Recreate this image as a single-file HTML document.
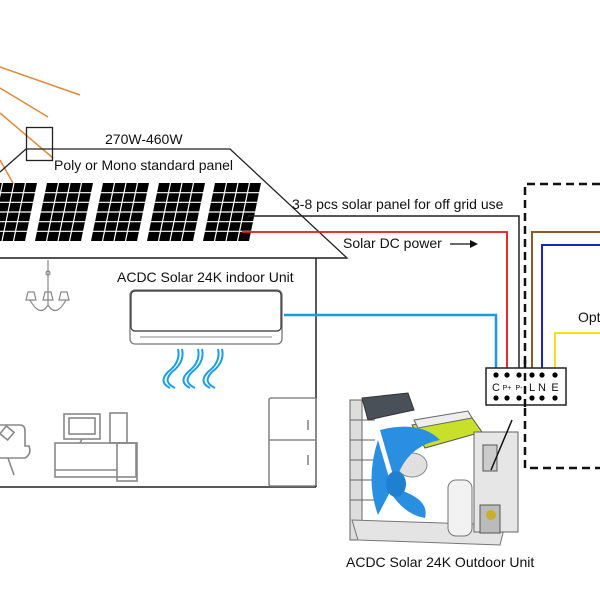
<!DOCTYPE html>
<html><head><meta charset="utf-8"><style>
html,body{margin:0;padding:0;background:#fff;width:600px;height:600px;overflow:hidden}
text{font-family:"Liberation Sans",Arial,sans-serif;fill:#111}
</style></head><body>
<svg width="600" height="600" viewBox="0 0 600 600" xmlns="http://www.w3.org/2000/svg">
<g stroke="#e08a3c" stroke-width="1.5">
<line x1="0" y1="67" x2="80" y2="95"/>
<line x1="0" y1="88" x2="48" y2="117"/>
<line x1="0" y1="113" x2="53" y2="158"/>
<line x1="0" y1="160" x2="13" y2="183"/>
</g>
<rect x="26.5" y="127.5" width="26" height="33" fill="none" stroke="#222" stroke-width="1.3"/>
<polyline points="0,172 26,149 230,149 347,258 0,258" fill="none" stroke="#222" stroke-width="1.3"/>
<line x1="0" y1="258" x2="347" y2="258" stroke="#444" stroke-width="1.8"/>
<line x1="316" y1="258" x2="316" y2="487" stroke="#222" stroke-width="1.5"/>
<line x1="0" y1="487" x2="316" y2="487" stroke="#222" stroke-width="1.5"/>
<defs>
<g id="pnl">
<polygon points="12,0 58,0 46,58 0,58" fill="#000"/>
<g stroke="#fff" stroke-width="1.2">
<line x1="23.5" y1="0" x2="11.5" y2="58"/>
<line x1="35" y1="0" x2="23" y2="58"/>
<line x1="46.5" y1="0" x2="34.5" y2="58"/>
<line x1="0" y1="9.7" x2="60" y2="9.7"/>
<line x1="0" y1="19.3" x2="60" y2="19.3"/>
<line x1="0" y1="29" x2="60" y2="29"/>
<line x1="0" y1="38.7" x2="60" y2="38.7"/>
<line x1="0" y1="48.3" x2="60" y2="48.3"/>
</g>
</g>
</defs>
<use href="#pnl" x="-21" y="183"/>
<use href="#pnl" x="35" y="183"/>
<use href="#pnl" x="91" y="183"/>
<use href="#pnl" x="147" y="183"/>
<use href="#pnl" x="203" y="183"/>
<polyline points="248,216 519,216 519,375" fill="none" stroke="#222" stroke-width="1.5"/>
<polyline points="242,232 507,232 507,375" fill="none" stroke="#e8141a" stroke-width="1.8"/>
<polyline points="284,315 496,315 496,375" fill="none" stroke="#1a9be0" stroke-width="2.5"/>
<polyline points="600,232 532,232 532,375" fill="none" stroke="#8a5a2a" stroke-width="2"/>
<polyline points="600,245 542,245 542,375" fill="none" stroke="#1a22cc" stroke-width="2"/>
<polyline points="600,333 555,333 555,375" fill="none" stroke="#f2e21a" stroke-width="2"/>
<polyline points="600,184 525,184 525,468 600,468" fill="none" stroke="#111" stroke-width="2.5" stroke-dasharray="8,5"/>
<rect x="486" y="368" width="80" height="37" fill="#fff" stroke="#222" stroke-width="1.5"/>
<g fill="#000">
<circle cx="496" cy="375" r="2.6"/><circle cx="507" cy="375" r="2.6"/><circle cx="519" cy="375" r="2.6"/><circle cx="532" cy="375" r="2.6"/><circle cx="542" cy="375" r="2.6"/><circle cx="555" cy="375" r="2.6"/>
<circle cx="496" cy="398" r="2.6"/><circle cx="507" cy="398" r="2.6"/><circle cx="519" cy="398" r="2.6"/><circle cx="532" cy="398" r="2.6"/><circle cx="542" cy="398" r="2.6"/><circle cx="555" cy="398" r="2.6"/>
</g>
<line x1="525" y1="360" x2="525" y2="410" stroke="#111" stroke-width="2.5" stroke-dasharray="8,5"/>
<text x="496" y="391" font-size="11" text-anchor="middle">C</text>
<text x="507" y="390" font-size="7" text-anchor="middle">P+</text>
<text x="519" y="390" font-size="7" text-anchor="middle">P-</text>
<text x="532" y="391" font-size="11" text-anchor="middle">L</text>
<text x="542" y="391" font-size="11" text-anchor="middle">N</text>
<text x="555" y="391" font-size="11" text-anchor="middle">E</text>
<text x="105" y="144" font-size="14">270W-460W</text>
<text x="54" y="170" font-size="14">Poly or Mono standard panel</text>
<text x="292" y="209" font-size="14">3-8 pcs solar panel for off grid use</text>
<text x="343" y="248" font-size="14">Solar DC power</text>
<line x1="450" y1="244" x2="476" y2="244" stroke="#111" stroke-width="1.3"/>
<polygon points="478,244 470,240 470,248" fill="#111"/>
<text x="117" y="282" font-size="14">ACDC Solar 24K indoor Unit</text>
<text x="346" y="567" font-size="14">ACDC Solar 24K Outdoor Unit</text>
<text x="578" y="322" font-size="14">Opt</text>
<rect x="130" y="290" width="152" height="54" rx="5" fill="#fff" stroke="#777" stroke-width="1.3"/>
<rect x="131" y="291" width="150" height="40" rx="4" fill="#fff" stroke="#333" stroke-width="1.2"/>
<line x1="140" y1="337" x2="272" y2="337" stroke="#888"/>
<g fill="none" stroke="#1aa0e0" stroke-width="2">
<path d="M182,349 Q185,362 172,372 Q162,382 175,388"/>
<path d="M202,349 Q205,362 192,372 Q182,382 195,388"/>
<path d="M222,349 Q225,362 212,372 Q202,382 215,388"/>
<path d="M178,349 Q181,362 168,372 Q158,382 170,388"/>
<path d="M198,349 Q201,362 188,372 Q178,382 190,388"/>
<path d="M218,349 Q221,362 208,372 Q198,382 210,388"/>
</g>
<g fill="none" stroke="#888" stroke-width="1.2">
<line x1="48" y1="260" x2="48" y2="305"/>
<circle cx="48" cy="273" r="2"/>
<path d="M30,300 Q40,318 48,305 Q56,318 66,300"/>
<path d="M28,292 h6 l2,8 h-10z"/><path d="M45,292 h6 l2,8 h-10z"/><path d="M61,292 h6 l2,8 h-10z"/>
</g>
<g fill="none" stroke="#888" stroke-width="1.6">
<path d="M0,425 h20 q5,0 5,6 v15 h4 q3,8 -4,12 h-25"/>
<rect x="2" y="428" width="10" height="10" transform="rotate(40 7 433)"/>
<line x1="8" y1="458" x2="14" y2="475"/>
<rect x="64" y="414" width="36" height="25"/><rect x="69" y="418" width="26" height="16"/>
<line x1="82" y1="439" x2="80" y2="443"/>
<rect x="110" y="413" width="17" height="30"/>
<rect x="55" y="443" width="81" height="34"/>
<line x1="55" y1="470" x2="117" y2="470"/>
<rect x="117" y="443" width="20" height="38"/>
<rect x="269" y="398" width="47" height="88" rx="2"/>
<line x1="269" y1="440" x2="316" y2="440"/>
<line x1="308" y1="420" x2="308" y2="430"/><line x1="308" y1="455" x2="308" y2="465"/>
</g>
<g>
<rect x="350" y="400" width="12" height="140" fill="#ddd" stroke="#666"/>
<g stroke="#666" fill="none"><line x1="350" y1="420" x2="375" y2="420"/><line x1="350" y1="440" x2="375" y2="440"/><line x1="350" y1="460" x2="375" y2="460"/><line x1="350" y1="480" x2="375" y2="480"/><line x1="350" y1="500" x2="375" y2="500"/></g>
<polygon points="362,398 408,393 414,410 368,420" fill="#4a5058" stroke="#333"/>
<polygon points="352,520 505,525 500,545 358,540" fill="#e4e4e4" stroke="#777"/>
<polygon points="412,425 470,415 482,432 425,448" fill="#c8e02a" stroke="#555"/>
<polygon points="414,420 468,411 472,418 418,428" fill="#eee" stroke="#666"/>
<rect x="474" y="432" width="44" height="100" fill="#e6e6e6" stroke="#666"/>
<rect x="483" y="445" width="14" height="26" fill="#ccc" stroke="#555"/>
<rect x="480" y="505" width="20" height="28" fill="#bbb" stroke="#555"/>
<circle cx="491" cy="515" r="5" fill="#c9b12a"/>
<rect x="448" y="480" width="24" height="56" rx="8" fill="#f2f2f2" stroke="#777"/>
<ellipse cx="412" cy="465" rx="15" ry="12" fill="#e0e0e0" stroke="#888"/>
<path d="M395,482 L380,430 Q420,420 440,440 Q412,445 400,470 Z" fill="#2a8fe0"/>
<path d="M392,488 L378,440 Q365,480 378,515 Z" fill="#2a8fe0"/>
<path d="M400,490 Q430,500 425,518 Q405,515 390,492 Z" fill="#2a8fe0"/>
<ellipse cx="396" cy="484" rx="10" ry="13" fill="#1f7fd0"/>
</g>
<line x1="491" y1="470" x2="512" y2="420" stroke="#111" stroke-width="1.5"/>
</svg>
</body></html>
